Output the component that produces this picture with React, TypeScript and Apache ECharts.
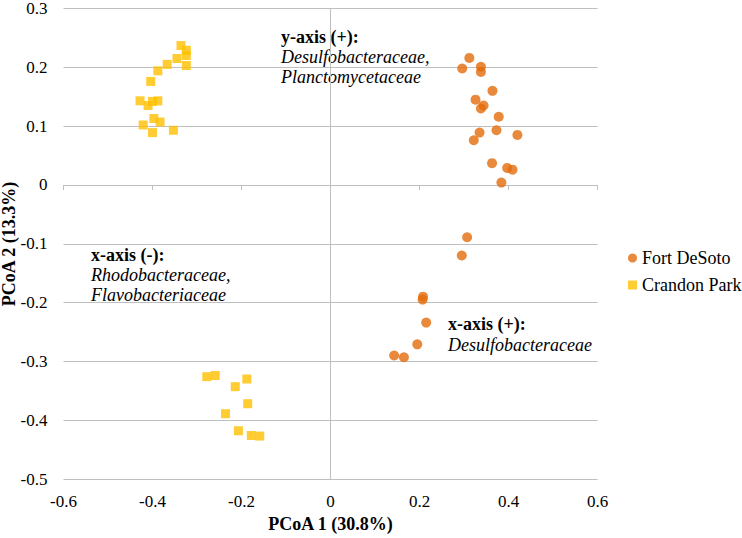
import React, { useEffect, useRef } from "react";
import * as echarts from "echarts";

const fortX = [0.312, 0.296, 0.338, 0.338, 0.364, 0.326, 0.344, 0.338, 0.378, 0.373, 0.335, 0.42, 0.322, 0.363, 0.397, 0.409, 0.384, 0.307, 0.295, 0.208, 0.207, 0.215, 0.195, 0.143, 0.165];
const fortY = [0.216, 0.198, 0.201, 0.192, 0.16, 0.145, 0.135, 0.13, 0.116, 0.093, 0.089, 0.085, 0.076, 0.037, 0.029, 0.026, 0.004, -0.089, -0.12, -0.19, -0.195, -0.234, -0.271, -0.29, -0.293];

const crandonX = [-0.336, -0.324, -0.324, -0.345, -0.324, -0.367, -0.388, -0.404, -0.428, -0.41, -0.4, -0.388, -0.421, -0.397, -0.383, -0.4, -0.353, -0.278, -0.259, -0.214, -0.188, -0.186, -0.236, -0.207, -0.178, -0.159];
const crandonY = [0.237, 0.229, 0.22, 0.215, 0.203, 0.205, 0.194, 0.176, 0.143, 0.135, 0.142, 0.143, 0.102, 0.113, 0.107, 0.089, 0.093, -0.326, -0.324, -0.343, -0.33, -0.372, -0.389, -0.418, -0.426, -0.427];

const seriesNames = ["Fort DeSoto", "Crandon Park"];
const xTitle = "PCoA 1 (30.8%)";
const yTitle = "PCoA 2 (13.3%)";

const FONT = "Liberation Serif";

export default function App() {
  const ref = useRef<HTMLDivElement>(null);

  useEffect(() => {
    document.body.style.margin = "0";
    if (!ref.current) return;
    const chart = echarts.init(ref.current, null, { renderer: "svg" });
    const grid = "#bfbfbf";
    const labelStyle = { fontFamily: FONT, fontSize: 17, color: "#000" };
    const annot = (x: number, y: number, text: string, bold: boolean) => ({
      type: "text",
      x,
      y,
      style: {
        text,
        fontFamily: FONT,
        fontSize: 18,
        fontWeight: bold ? "bold" : "normal",
        fontStyle: bold ? "normal" : "italic",
        fill: "#000",
        align: "left",
        verticalAlign: "middle",
        textAlign: "left",
        textVerticalAlign: "middle",
      },
    });
    chart.setOption({
      animation: false,
      textStyle: { fontFamily: FONT },
      grid: { left: 63.5, right: 144.5, top: 6, bottom: 56, containLabel: false },
      legend: {
        orient: "vertical",
        left: 628,
        top: 249,
        padding: 0,
        itemWidth: 9,
        itemHeight: 9,
        itemGap: 9,
        textStyle: { fontFamily: FONT, fontSize: 18, color: "#000" },
        data: [
          { name: seriesNames[0], icon: "circle" },
          { name: seriesNames[1], icon: "rect" },
        ],
      },
      xAxis: [
        {
          type: "value",
          min: -0.6,
          max: 0.6,
          interval: 0.2,
          position: "bottom",
          axisLine: { show: false, onZero: false },
          axisTick: { show: false },
          splitLine: { show: false },
          axisLabel: { ...labelStyle, margin: 14 },
          name: xTitle,
          nameLocation: "middle",
          nameGap: 36,
          nameTextStyle: { fontFamily: FONT, fontSize: 18, fontWeight: "bold", color: "#000" },
        },
        {
          type: "value",
          min: -0.6,
          max: 0.6,
          interval: 0.2,
          position: "bottom",
          axisLine: { show: true, onZero: true, lineStyle: { color: grid, width: 1 } },
          axisTick: { show: true, length: 5, inside: false, lineStyle: { color: grid, width: 1 } },
          axisLabel: { show: false },
          splitLine: { show: false },
        },
      ],
      yAxis: [
        {
          type: "value",
          min: -0.5,
          max: 0.3,
          interval: 0.1,
          position: "left",
          axisLine: { show: false, onZero: false },
          axisTick: { show: false },
          splitLine: { show: true, lineStyle: { color: grid, width: 1 } },
          axisLabel: { ...labelStyle, margin: 16 },
        },
        {
          type: "value",
          min: -0.5,
          max: 0.3,
          interval: 0.1,
          position: "left",
          axisLine: { show: true, onZero: true, lineStyle: { color: grid, width: 1 } },
          axisTick: { show: false },
          axisLabel: { show: false },
          splitLine: { show: false },
        },
      ],
      graphic: [
        {
          type: "text",
          x: 9,
          y: 244,
          rotation: Math.PI / 2,
          style: {
            text: yTitle,
            fontFamily: FONT,
            fontSize: 18,
            fontWeight: "bold",
            fill: "#000",
            align: "center",
            verticalAlign: "middle",
            textAlign: "center",
            textVerticalAlign: "middle",
          },
        },
        annot(281, 37, "y-axis (+):", true),
        annot(281, 57, "Desulfobacteraceae,", false),
        annot(281, 77, "Planctomycetaceae", false),
        annot(91, 255, "x-axis (-):", true),
        annot(91, 275, "Rhodobacteraceae,", false),
        annot(91, 295, "Flavobacteriaceae", false),
        annot(448, 324, "x-axis (+):", true),
        annot(448, 345, "Desulfobacteraceae", false),
      ],
      series: [
        {
          name: seriesNames[0],
          type: "scatter",
          xAxisIndex: 0,
          yAxisIndex: 0,
          symbol: "circle",
          symbolSize: 10,
          itemStyle: { color: "#E36C0A" },
          data: fortX.map((x, i) => [x, fortY[i]]),
        },
        {
          name: seriesNames[1],
          type: "scatter",
          xAxisIndex: 0,
          yAxisIndex: 0,
          symbol: "rect",
          symbolSize: 9,
          itemStyle: { color: "#FFC000" },
          data: crandonX.map((x, i) => [x, crandonY[i]]),
        },
      ],
    });
    return () => chart.dispose();
  }, []);

  return <div ref={ref} style={{ width: 742, height: 538 }} />;
}
